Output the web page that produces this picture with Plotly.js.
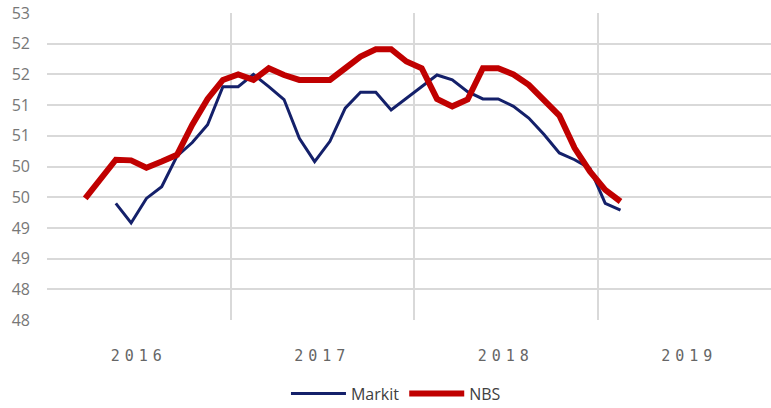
<!DOCTYPE html>
<html>
<head>
<meta charset="utf-8">
<script src="https://cdn.plot.ly/plotly-3.0.1.min.js"></script>
<style>html,body{margin:0;padding:0;background:#fff;overflow:hidden}
.xtick text{letter-spacing:5px}</style>
</head>
<body>
<div id="chart" style="width:771px;height:408px"></div>
<script>
// Month index 0 = Jan 2016; points plotted at the middle of each month
const nbsMonths = [2,3,4,5,6,7,8,9,10,11,12,13,14,15,16,17,18,19,20,21,22,23,24,25,26,27,28,29,30,31,32,33,34,35,36,37];
const nbsValues = [49.98,50.3,50.61,50.6,50.48,50.58,50.69,51.18,51.6,51.91,52.0,51.91,52.1,51.99,51.91,51.91,51.91,52.1,52.29,52.41,52.41,52.21,52.1,51.6,51.48,51.59,52.1,52.1,52.0,51.83,51.59,51.33,50.8,50.42,50.12,49.93];
const markitMonths = [4,5,6,7,8,9,10,11,12,13,14,15,16,17,18,19,20,21,22,23,24,25,26,27,28,29,30,31,32,33,34,35,36,37];
const markitValues = [49.9,49.58,49.98,50.17,50.67,50.89,51.18,51.8,51.8,52.0,51.8,51.59,50.96,50.58,50.91,51.45,51.71,51.71,51.42,51.61,51.8,51.99,51.91,51.72,51.6,51.6,51.48,51.29,51.02,50.72,50.61,50.47,49.9,49.79];
const yearLabels = ['2016','2017','2018','2019'];
const yearStarts = [0,12,24,36];
const yTickVals = [48,48.5,49,49.5,50,50.5,51,51.5,52,52.5,53];
const yTickText = ['48','48','49','49','50','50','51','51','52','52','53'];

const mid = m => m + 0.5;
const traces = [
  {x: markitMonths.map(mid), y: markitValues, name: 'Markit', type: 'scatter', mode: 'lines',
   line: {color: '#14206a', width: 3}},
  {x: nbsMonths.map(mid), y: nbsValues, name: 'NBS', type: 'scatter', mode: 'lines',
   line: {color: '#c00000', width: 6}}
];
const grid = '#d9d9d9';
const layout = {
  width: 771, height: 408,
  margin: {l: 47, r: 0, t: 13, b: 88, autoexpand: false},
  paper_bgcolor: '#fff', plot_bgcolor: '#fff',
  showlegend: true,
  legend: {orientation: 'h', x: 0.482, xanchor: 'center', y: -0.24, yanchor: 'middle',
           font: {family: 'Open Sans', size: 16, color: '#404040'}, itemwidth: 55},
  xaxis: {
    range: [0, 47.34], tickmode: 'array',
    tickvals: yearStarts.map(s => s + 6), ticktext: yearLabels,
    showgrid: false, zeroline: false, showline: false, ticks: '',
    tickfont: {family: 'DejaVu Sans Mono', size: 15, color: '#666'},
    ticklabelstandoff: 25, automargin: false,
    minor: {tickmode: 'array', tickvals: yearStarts, showgrid: true, gridcolor: grid, gridwidth: 2, ticks: ''}
  },
  yaxis: {
    range: [48, 53], tickmode: 'array', tickvals: yTickVals, ticktext: yTickText,
    showgrid: true, gridcolor: grid, gridwidth: 2, zeroline: false, showline: false,
    tickfont: {family: 'Open Sans', size: 16, color: '#777'},
    ticklabelstandoff: 16, automargin: false
  }
};
Plotly.newPlot('chart', traces, layout, {displayModeBar: false, staticPlot: true});
</script>
</body>
</html>
